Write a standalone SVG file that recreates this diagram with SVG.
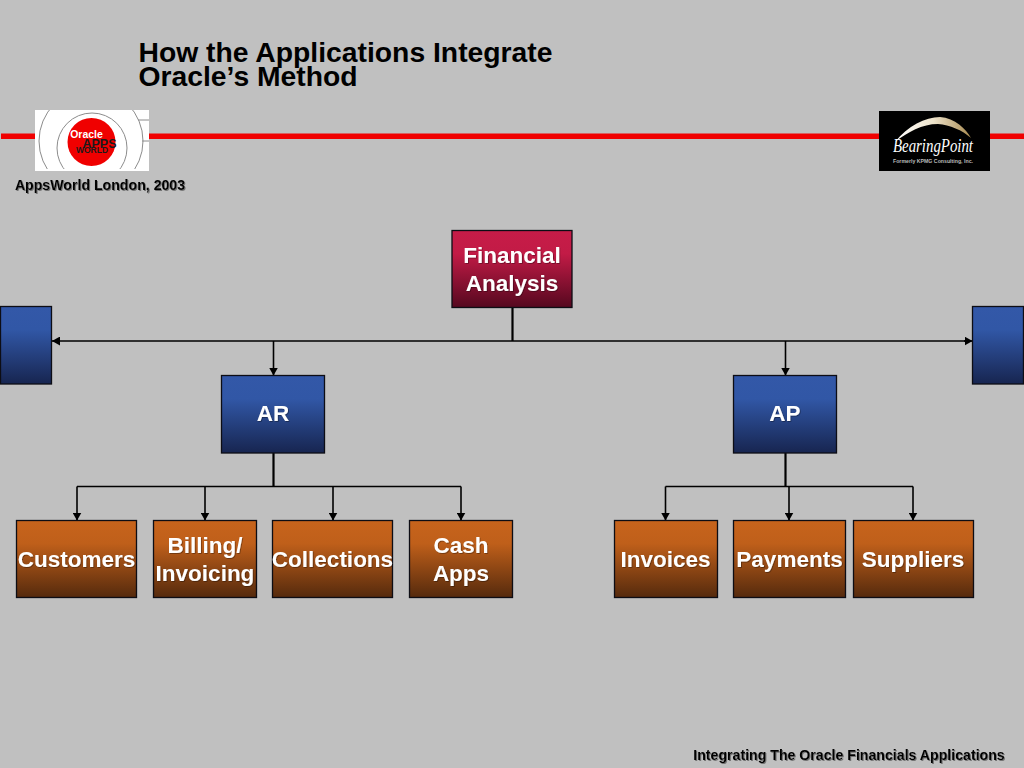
<svg xmlns="http://www.w3.org/2000/svg" width="1024" height="768" viewBox="0 0 1024 768">
<style>
text{font-family:"Liberation Sans",Arial,sans-serif;font-weight:bold;text-anchor:middle}
.box{stroke:#0d0d14;stroke-width:1.3}
.lbl{fill:#fff;font-size:22.500px;filter:url(#soft)}
.title{fill:#000;font-size:28.300px;text-anchor:start}
.small{fill:#000;font-size:14.150px;filter:url(#sh)}
.c{fill:none;stroke:#000;stroke-width:1.6}
.t{fill:none;stroke:#000;stroke-width:2.2}
</style>
<defs>
<linearGradient id="blue" x1="0" y1="0" x2="0" y2="1"><stop offset="0" stop-color="#3358a8"/><stop offset=".3" stop-color="#3157a6"/><stop offset="1" stop-color="#172550"/></linearGradient>
<linearGradient id="red" x1="0" y1="0" x2="0" y2="1"><stop offset="0" stop-color="#c71c48"/><stop offset=".3" stop-color="#c21b46"/><stop offset="1" stop-color="#55081f"/></linearGradient>
<linearGradient id="org" x1="0" y1="0" x2="0" y2="1"><stop offset="0" stop-color="#c7641c"/><stop offset=".3" stop-color="#bf5f1a"/><stop offset="1" stop-color="#552a0d"/></linearGradient>
<linearGradient id="arc" x1="0" y1="0" x2="1" y2="0"><stop offset="0" stop-color="#fff"/><stop offset=".5" stop-color="#eee4cc"/><stop offset="1" stop-color="#a88a50"/></linearGradient>
<marker id="a" markerUnits="userSpaceOnUse" markerWidth="9" markerHeight="9" refX="8" refY="4.500" orient="auto"><path d="M0 0L8 4.500L0 9Z" fill="#000"/></marker>
<clipPath id="logoClip"><rect x="35" y="110" width="114" height="59"/></clipPath>
<filter id="sh" x="-5%" y="-20%" width="110%" height="150%"><feDropShadow dx="1" dy="1" stdDeviation=".7" flood-color="#555" flood-opacity=".7"/></filter>
<filter id="soft" x="-5%" y="-20%" width="110%" height="150%"><feDropShadow dx=".8" dy=".8" stdDeviation=".5" flood-color="#000" flood-opacity=".4"/></filter>
</defs>
<rect width="1024" height="768" fill="#c0c0c0"/>
<g id="header">
<rect x="1" y="133.500" width="1023" height="5.500" fill="#f00000"/>
<text class="title" x="138.500" y="62">How the Applications Integrate</text>
<text class="title" x="138.500" y="86">Oracle’s Method</text>
<text class="small" x="100" y="190">AppsWorld London, 2003</text>
<text class="small" x="849" y="760">Integrating The Oracle Financials Applications</text>
</g>
<g id="logo-oracle">
<rect x="35" y="110" width="114" height="61" fill="#fff"/>
<g clip-path="url(#logoClip)" fill="none" stroke="#8c8c8c" stroke-width="1">
<circle cx="91" cy="141" r="52"/>
<circle cx="92" cy="148" r="35"/>
<path d="M138 120H149M142 141H149"/>
</g>
<circle cx="91.500" cy="142" r="24" fill="#f00000"/>
<text x="86.500" y="138" font-size="10.500" fill="#fff">Oracle</text>
<text x="99.500" y="148" font-size="12.500" fill="#1a1a1a">APPS</text>
<text x="92" y="153" font-size="8.500" fill="#1a1a1a">WORLD</text>
</g>
<g id="logo-bearingpoint">
<rect x="879" y="111" width="111" height="60" fill="#000"/>
<path d="M895 142C908 126 925 117 940 117C955 118 966 129 971 138C962 130 950 125 938 124C922 124 908 132 895 142Z" fill="url(#arc)"/>
<text x="933" y="152" font-size="19" fill="#fff" style="font-family:'Liberation Serif',serif;font-weight:normal;font-style:italic" textLength="80" lengthAdjust="spacingAndGlyphs">BearingPoint</text>
<text x="933" y="163" font-size="5.500" fill="#bbb" textLength="80" lengthAdjust="spacingAndGlyphs">Formerly KPMG Consulting, Inc.</text>
</g>
<g id="connectors">
<path class="t" d="M512.500 307V341"/>
<path class="c" d="M60 341H965"/>
<path class="c" d="M60 341H52" marker-end="url(#a)"/>
<path class="c" d="M964 341H972.500" marker-end="url(#a)"/>
<path class="c" d="M273.500 341V375.500" marker-end="url(#a)"/>
<path class="c" d="M785.500 341V375.500" marker-end="url(#a)"/>
<path class="t" d="M273.500 453V486"/>
<path class="t" d="M785.500 453V486"/>
<path class="c" d="M77 486.500H461"/>
<path class="c" d="M77 486.500V520.500" marker-end="url(#a)"/>
<path class="c" d="M205 486.500V520.500" marker-end="url(#a)"/>
<path class="c" d="M333 486.500V520.500" marker-end="url(#a)"/>
<path class="c" d="M461 486.500V520.500" marker-end="url(#a)"/>
<path class="c" d="M665.500 486.500H913"/>
<path class="c" d="M665.500 486.500V520.500" marker-end="url(#a)"/>
<path class="c" d="M789 486.500V520.500" marker-end="url(#a)"/>
<path class="c" d="M913 486.500V520.500" marker-end="url(#a)"/>
</g>
<g id="financial-analysis"><rect class="box" x="452" y="230.500" width="120" height="77" fill="url(#red)"/><text class="lbl" x="512" y="263">Financial</text><text class="lbl" x="512" y="290.500">Analysis</text></g>
<g id="left-blank"><rect class="box" x="0.500" y="306.500" width="51" height="77.500" fill="url(#blue)"/></g>
<g id="right-blank"><rect class="box" x="972.500" y="306.500" width="51" height="77.500" fill="url(#blue)"/></g>
<g id="ar"><rect class="box" x="221.500" y="375.500" width="103" height="77.500" fill="url(#blue)"/><text class="lbl" x="273" y="421">AR</text></g>
<g id="ap"><rect class="box" x="733.500" y="375.500" width="103" height="77.500" fill="url(#blue)"/><text class="lbl" x="785" y="421">AP</text></g>
<g id="customers"><rect class="box" x="16.500" y="520.500" width="120" height="77" fill="url(#org)"/><text class="lbl" x="76.500" y="567">Customers</text></g>
<g id="billing"><rect class="box" x="153.500" y="520.500" width="103" height="77" fill="url(#org)"/><text class="lbl" x="205" y="553">Billing/</text><text class="lbl" x="205" y="580.500">Invoicing</text></g>
<g id="collections"><rect class="box" x="272.500" y="520.500" width="120" height="77" fill="url(#org)"/><text class="lbl" x="332.500" y="567">Collections</text></g>
<g id="cash-apps"><rect class="box" x="409.500" y="520.500" width="103" height="77" fill="url(#org)"/><text class="lbl" x="461" y="553">Cash</text><text class="lbl" x="461" y="580.500">Apps</text></g>
<g id="invoices"><rect class="box" x="614.500" y="520.500" width="103" height="77" fill="url(#org)"/><text class="lbl" x="665.500" y="567">Invoices</text></g>
<g id="payments"><rect class="box" x="733.500" y="520.500" width="112" height="77" fill="url(#org)"/><text class="lbl" x="789.500" y="567">Payments</text></g>
<g id="suppliers"><rect class="box" x="853.500" y="520.500" width="120" height="77" fill="url(#org)"/><text class="lbl" x="913" y="567">Suppliers</text></g>
</svg>
